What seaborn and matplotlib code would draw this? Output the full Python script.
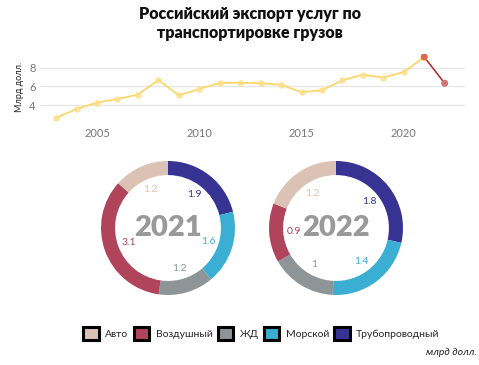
import numpy as np
import pandas as pd
import matplotlib
matplotlib.use('Agg')
import matplotlib.pyplot as plt
from matplotlib.patches import Patch
import seaborn as sns

# Export of freight transport services, bn USD
years = list(range(2003, 2023))
export = [2.65, 3.6, 4.28, 4.67, 5.13, 6.69, 5.06, 5.73, 6.37, 6.4,
          6.34, 6.19, 5.38, 5.6, 6.66, 7.26, 6.94, 7.55, 9.15, 6.34]

# Structure by mode of transport (clockwise from top)
modes = ['Трубопроводный', 'Морской', 'ЖД', 'Воздушный', 'Авто']
vals_2021 = [1.9, 1.6, 1.2, 3.1, 1.2]
vals_2022 = [1.8, 1.4, 1.0, 0.9, 1.2]
colors = ['#373393', '#3aafd3', '#8d9599', '#b0445a', '#dbc2b5']
legend_order = ['Авто', 'Воздушный', 'ЖД', 'Морской', 'Трубопроводный']

sns.set_theme(style='white')
plt.rcParams['font.family'] = ['Lato', 'DejaVu Sans']

fig = plt.figure(figsize=(4.79, 3.65), dpi=100)

fig.text(0.522, 0.935, 'Российский экспорт услуг по\nтранспортировке грузов',
         ha='center', va='center', fontsize=11.5, fontweight='heavy',
         linespacing=1.2, color='#111111')

# 1. Line chart
ax = fig.add_axes([0.083, 0.668, 0.888, 0.185])
df = pd.DataFrame({'year': years, 'value': export})
main = df[df.year <= 2021]
last = df[df.year >= 2021]
sns.lineplot(data=main, x='year', y='value', ax=ax, color='#fdd66b', lw=1.3)
ax.scatter(main.year, main.value, s=22, color='#fde08a', alpha=0.85, zorder=3, linewidths=0)
sns.lineplot(data=last, x='year', y='value', ax=ax, color='#b3222b', lw=1.1)
ax.scatter(last.year, last.value, s=26, color=['#d96a4c', '#d07478'], zorder=4, linewidths=0)
ax.set_xlim(2002.2, 2023.0)
ax.set_ylim(2.3, 9.5)
ax.set_yticks([4, 6, 8])
ax.set_xticks([2005, 2010, 2015, 2020])
ax.yaxis.grid(True, color='#e6e6e6', lw=0.9)
ax.set_axisbelow(True)
for s in ax.spines.values():
    s.set_visible(False)
ax.tick_params(axis='both', length=0, labelsize=8, colors='#777777', pad=3)
ax.tick_params(axis='x', pad=5)
ax.set_xlabel('')
ax.set_ylabel('Млрд долл.', fontsize=6.5, color='#222222', labelpad=4)


# 2. Donuts
def donut(box, vals, year):
    a = fig.add_axes(box)
    total = sum(vals)
    wedges, texts, autotexts = a.pie(
        vals, colors=colors, startangle=90, counterclock=False,
        wedgeprops=dict(width=0.21, linewidth=0),
        autopct=lambda p: '{:g}'.format(round(p * total / 100, 1)),
        pctdistance=0.63, textprops=dict(fontsize=7.5))
    for t, c in zip(autotexts, colors):
        t.set_color(c)
    a.text(0, 0, str(year), ha='center', va='center', fontsize=21,
           fontweight='heavy', color='#999999')
    a.set_xlim(-1, 1)
    a.set_ylim(-1, 1)
    a.set_aspect('equal')


donut([(168 - 67) / 479, 1 - (228 + 67) / 365, 134 / 479, 134 / 365], vals_2021, 2021)
donut([(336 - 67) / 479, 1 - (228 + 67) / 365, 134 / 479, 134 / 365], vals_2022, 2022)

# Legend
handles = [Patch(facecolor=colors[modes.index(m)], edgecolor='black', linewidth=2.2, label=m)
           for m in legend_order]
fig.legend(handles=handles, loc='center', bbox_to_anchor=(0.546, 0.087), ncol=5,
           frameon=False, fontsize=7.5, handlelength=1.5, handleheight=1.5,
           handletextpad=0.6, columnspacing=0.5)

fig.text(0.995, 0.035, 'млрд долл.', ha='right', va='center', fontsize=7.5,
         style='italic', color='#222222')

fig.savefig('out.png', dpi=100)
